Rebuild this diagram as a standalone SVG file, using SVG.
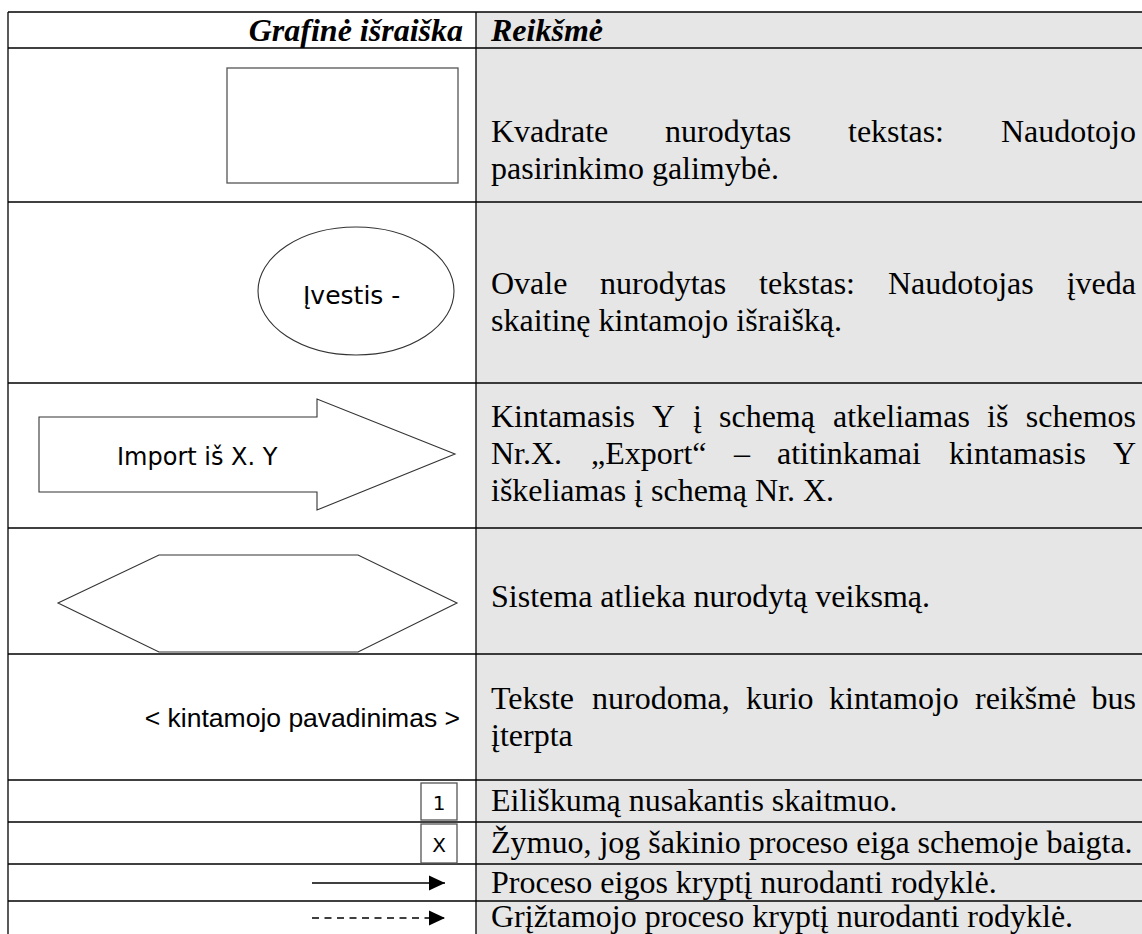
<svg xmlns="http://www.w3.org/2000/svg" width="1142" height="934" viewBox="0 0 1142 934">
<style>
.grid{stroke:#000;stroke-width:1.3;fill:none}
.shape{fill:#fff;stroke:#333;stroke-width:1.1}
.box{fill:#fff;stroke:#555;stroke-width:1.3}
.tm{font-family:"Liberation Serif","Times New Roman",serif;font-size:32px;fill:#000}
.hd{font-family:"Liberation Serif","Times New Roman",serif;font-size:32px;font-weight:bold;font-style:italic;fill:#000}
.vd{font-family:"DejaVu Sans",Verdana,sans-serif;font-size:24px;fill:#000}
.num{font-family:"DejaVu Sans",Verdana,sans-serif;font-size:20px;fill:#000;text-anchor:middle}
.ar{font-family:"Liberation Sans",Arial,sans-serif;font-size:26.5px;fill:#000}
.conn{stroke:#000;stroke-width:1.3;fill:none}
</style>
<defs>
<marker id="head" markerUnits="userSpaceOnUse" markerWidth="16" markerHeight="16" viewBox="0 0 15 14" refX="15" refY="7" orient="auto">
<path d="M0,0 L15,7 L0,14 Z" fill="#000"/>
</marker>
</defs>
<rect x="0" y="0" width="1142" height="934" fill="#fff"/>
<rect x="476" y="12" width="666" height="922" fill="#e6e6e6"/>
<g id="table">
<line class="grid" x1="8" y1="12" x2="8" y2="934"/>
<line class="grid" x1="476" y1="12" x2="476" y2="934"/>
<line class="grid" x1="8" y1="12" x2="1142" y2="12"/>
<line class="grid" x1="8" y1="48" x2="1142" y2="48"/>
<line class="grid" x1="8" y1="202" x2="1142" y2="202"/>
<line class="grid" x1="8" y1="383" x2="1142" y2="383"/>
<line class="grid" x1="8" y1="528" x2="1142" y2="528"/>
<line class="grid" x1="8" y1="654" x2="1142" y2="654"/>
<line class="grid" x1="8" y1="780" x2="1142" y2="780"/>
<line class="grid" x1="8" y1="822" x2="1142" y2="822"/>
<line class="grid" x1="8" y1="864" x2="1142" y2="864"/>
<line class="grid" x1="8" y1="901" x2="1142" y2="901"/>
</g>
<g id="header">
<text class="hd" x="463" y="41" text-anchor="end">Grafinė išraiška</text>
<text class="hd" x="491" y="41">Reikšmė</text>
</g>
<g id="row-rect">
<rect class="box" x="227" y="68" width="231" height="115"/>
<text class="tm" y="142"><tspan x="491">Kvadrate</tspan><tspan x="665">nurodytas</tspan><tspan x="848">tekstas:</tspan><tspan x="1136" text-anchor="end">Naudotojo</tspan></text>
<text class="tm" x="491" y="179">pasirinkimo galimybė.</text>
</g>
<g id="row-oval">
<ellipse class="shape" cx="356" cy="291" rx="98" ry="64"/>
<text class="vd" x="303" y="304" style="font-size:25px">Įvestis -</text>
<text class="tm" y="294"><tspan x="491">Ovale</tspan><tspan x="600">nurodytas</tspan><tspan x="759">tekstas:</tspan><tspan x="888">Naudotojas</tspan><tspan x="1136" text-anchor="end">įveda</tspan></text>
<text class="tm" x="491" y="331">skaitinę kintamojo išraišką.</text>
</g>
<g id="row-import">
<polygon class="shape" points="39,417 317,417 317,399 455,454 317,510 317,492 39,492"/>
<text class="vd" x="117" y="465">Import iš X. Y</text>
<text class="tm" y="427"><tspan x="491">Kintamasis</tspan><tspan x="652">Y</tspan><tspan x="693">į</tspan><tspan x="719">schemą</tspan><tspan x="833">atkeliamas</tspan><tspan x="987">iš</tspan><tspan x="1136" text-anchor="end">schemos</tspan></text>
<text class="tm" y="464"><tspan x="491">Nr.X.</tspan><tspan x="591">„Export“</tspan><tspan x="734">–</tspan><tspan x="777">atitinkamai</tspan><tspan x="949">kintamasis</tspan><tspan x="1136" text-anchor="end">Y</tspan></text>
<text class="tm" x="491" y="501">iškeliamas į schemą Nr. X.</text>
</g>
<g id="row-hexagon">
<polygon class="shape" points="58,603 159,555 358,555 457,603 358,652 159,652"/>
<text class="tm" x="491" y="607">Sistema atlieka nurodytą veiksmą.</text>
</g>
<g id="row-variable">
<text class="ar" x="460" y="727" text-anchor="end">&lt; kintamojo pavadinimas &gt;</text>
<text class="tm" y="709"><tspan x="491">Tekste</tspan><tspan x="592">nurodoma,</tspan><tspan x="746">kurio</tspan><tspan x="829">kintamojo</tspan><tspan x="975">reikšmė</tspan><tspan x="1136" text-anchor="end">bus</tspan></text>
<text class="tm" x="491" y="746">įterpta</text>
</g>
<g id="row-number">
<rect class="box" x="421" y="783" width="36" height="37"/>
<text class="num" x="439" y="810">1</text>
<text class="tm" x="491" y="811">Eiliškumą nusakantis skaitmuo.</text>
</g>
<g id="row-end">
<rect class="box" x="421" y="824" width="36" height="39"/>
<text class="num" x="439" y="852">X</text>
<text class="tm" x="491" y="853">Žymuo, jog šakinio proceso eiga schemoje baigta.</text>
</g>
<g id="row-arrow">
<text class="tm" x="491" y="893">Proceso eigos kryptį nurodanti rodyklė.</text>
</g>
<g id="row-dashed">
<text class="tm" x="491" y="927">Grįžtamojo proceso kryptį nurodanti rodyklė.</text>
</g>
<g id="connectors">
<line class="conn" x1="312" y1="883" x2="445" y2="883" marker-end="url(#head)"/>
<line class="conn" x1="312" y1="918" x2="445" y2="918" stroke-dasharray="7,5.5" marker-end="url(#head)"/>
</g>
</svg>
